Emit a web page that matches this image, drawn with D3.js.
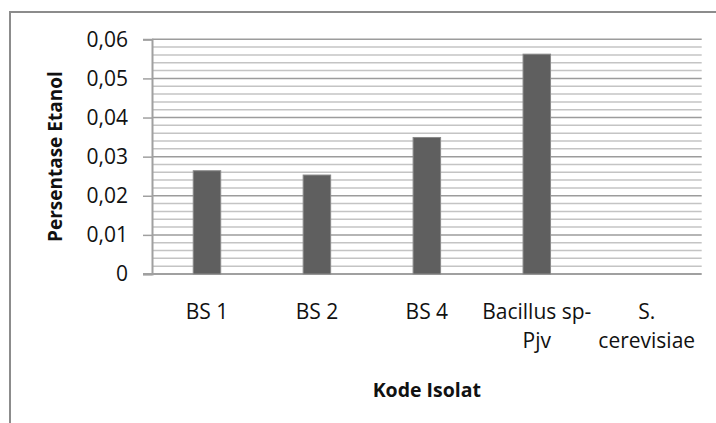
<!DOCTYPE html>
<html>
<head>
<meta charset="utf-8">
<script src="https://cdn.jsdelivr.net/npm/d3@7"></script>
<style>
  body { margin: 0; background: #fff; }
  text { font-family: "Open Sans", sans-serif; fill: #111; }
</style>
</head>
<body>
<div id="chart"></div>
<script>
// data
const categories = ['BS 1', 'BS 2', 'BS 4', 'Bacillus sp-Pjv', 'S. cerevisiae'];
const categoryLines = [['BS 1'], ['BS 2'], ['BS 4'], ['Bacillus sp-', 'Pjv'], ['S.', 'cerevisiae']];
const values = [0.0264, 0.0253, 0.0349, 0.0562, 0];
const yTicks = [0, 0.01, 0.02, 0.03, 0.04, 0.05, 0.06];
const yTitle = 'Persentase Etanol';
const xTitle = 'Kode Isolat';

const width = 716, height = 423;
const margin = {top: 39.3, right: 14.3, bottom: 149, left: 152};

const svg = d3.select('#chart').append('svg')
    .attr('width', width)
    .attr('height', height);

// outer chart border (runs off the right and bottom of the picture)
svg.append('rect')
    .attr('x', 10).attr('y', 12)
    .attr('width', 800).attr('height', 500)
    .attr('fill', 'none')
    .attr('stroke', '#8c8c8c')
    .attr('stroke-width', 2);

const x = d3.scaleBand()
    .domain(categories)
    .range([margin.left, width - margin.right])
    .paddingInner(0.75)
    .paddingOuter(0.375);

const y = d3.scaleLinear()
    .domain([0, 0.06])
    .range([height - margin.bottom, margin.top]);

const fmt = d => d3.format('.2f')(d).replace('.', ',').replace(/^0,00$/, '0');

// minor gridlines every 0.002
const minor = d3.range(0.002, 0.0601, 0.002).filter(v => Math.abs(v * 100 - Math.round(v * 100)) > 1e-6);
svg.append('g').selectAll('line')
    .data(minor)
    .join('line')
    .attr('x1', margin.left).attr('x2', width - margin.right)
    .attr('y1', d => y(d)).attr('y2', d => y(d))
    .attr('stroke', '#c4c4c4')
    .attr('stroke-width', 1.5);

// major gridlines
svg.append('g').selectAll('line')
    .data(yTicks.filter(d => d > 0))
    .join('line')
    .attr('x1', margin.left).attr('x2', width - margin.right)
    .attr('y1', d => y(d)).attr('y2', d => y(d))
    .attr('stroke', '#9c9c9c')
    .attr('stroke-width', 1.5);

// y axis
const yAxis = svg.append('g')
    .attr('transform', `translate(${margin.left},0)`)
    .call(d3.axisLeft(y).tickValues(yTicks).tickFormat(fmt).tickSize(9).tickPadding(15));
yAxis.select('.domain').attr('stroke', '#a0a0a0').attr('stroke-width', 2);
yAxis.selectAll('.tick line').attr('stroke', '#a0a0a0').attr('stroke-width', 1.5);
yAxis.selectAll('.tick text')
    .attr('font-family', '"Open Sans", sans-serif')
    .attr('font-size', 21)
    .attr('fill', '#111');

// baseline
svg.append('line')
    .attr('x1', margin.left - 9).attr('x2', width - margin.right)
    .attr('y1', y(0)).attr('y2', y(0))
    .attr('stroke', '#a0a0a0')
    .attr('stroke-width', 2);

// bars
svg.append('g').selectAll('rect')
    .data(values)
    .join('rect')
    .attr('x', (d, i) => x(categories[i]))
    .attr('y', d => y(d))
    .attr('width', x.bandwidth())
    .attr('height', d => y(0) - y(d))
    .attr('fill', '#5f5f5f')
    .attr('stroke', '#8a8a8a')
    .attr('stroke-width', 1);

// category labels
const xl = svg.append('g').selectAll('text')
    .data(categories)
    .join('text')
    .attr('text-anchor', 'middle')
    .attr('font-size', 21)
    .attr('transform', d => `translate(${x(d) + x.bandwidth() / 2},${y(0) + 45})`);
xl.selectAll('tspan')
    .data((d, i) => categoryLines[i])
    .join('tspan')
    .attr('x', 0)
    .attr('y', (d, i) => i * 29)
    .text(d => d);

// axis titles
svg.append('text')
    .attr('x', (margin.left + width - margin.right) / 2)
    .attr('y', 397)
    .attr('text-anchor', 'middle')
    .attr('font-size', 19.5)
    .attr('font-weight', 'bold')
    .text(xTitle);

svg.append('text')
    .attr('transform', `translate(62,${(y(0) + y(0.06)) / 2}) rotate(-90)`)
    .attr('text-anchor', 'middle')
    .attr('font-size', 19)
    .attr('font-weight', 'bold')
    .text(yTitle);
</script>
</body>
</html>
